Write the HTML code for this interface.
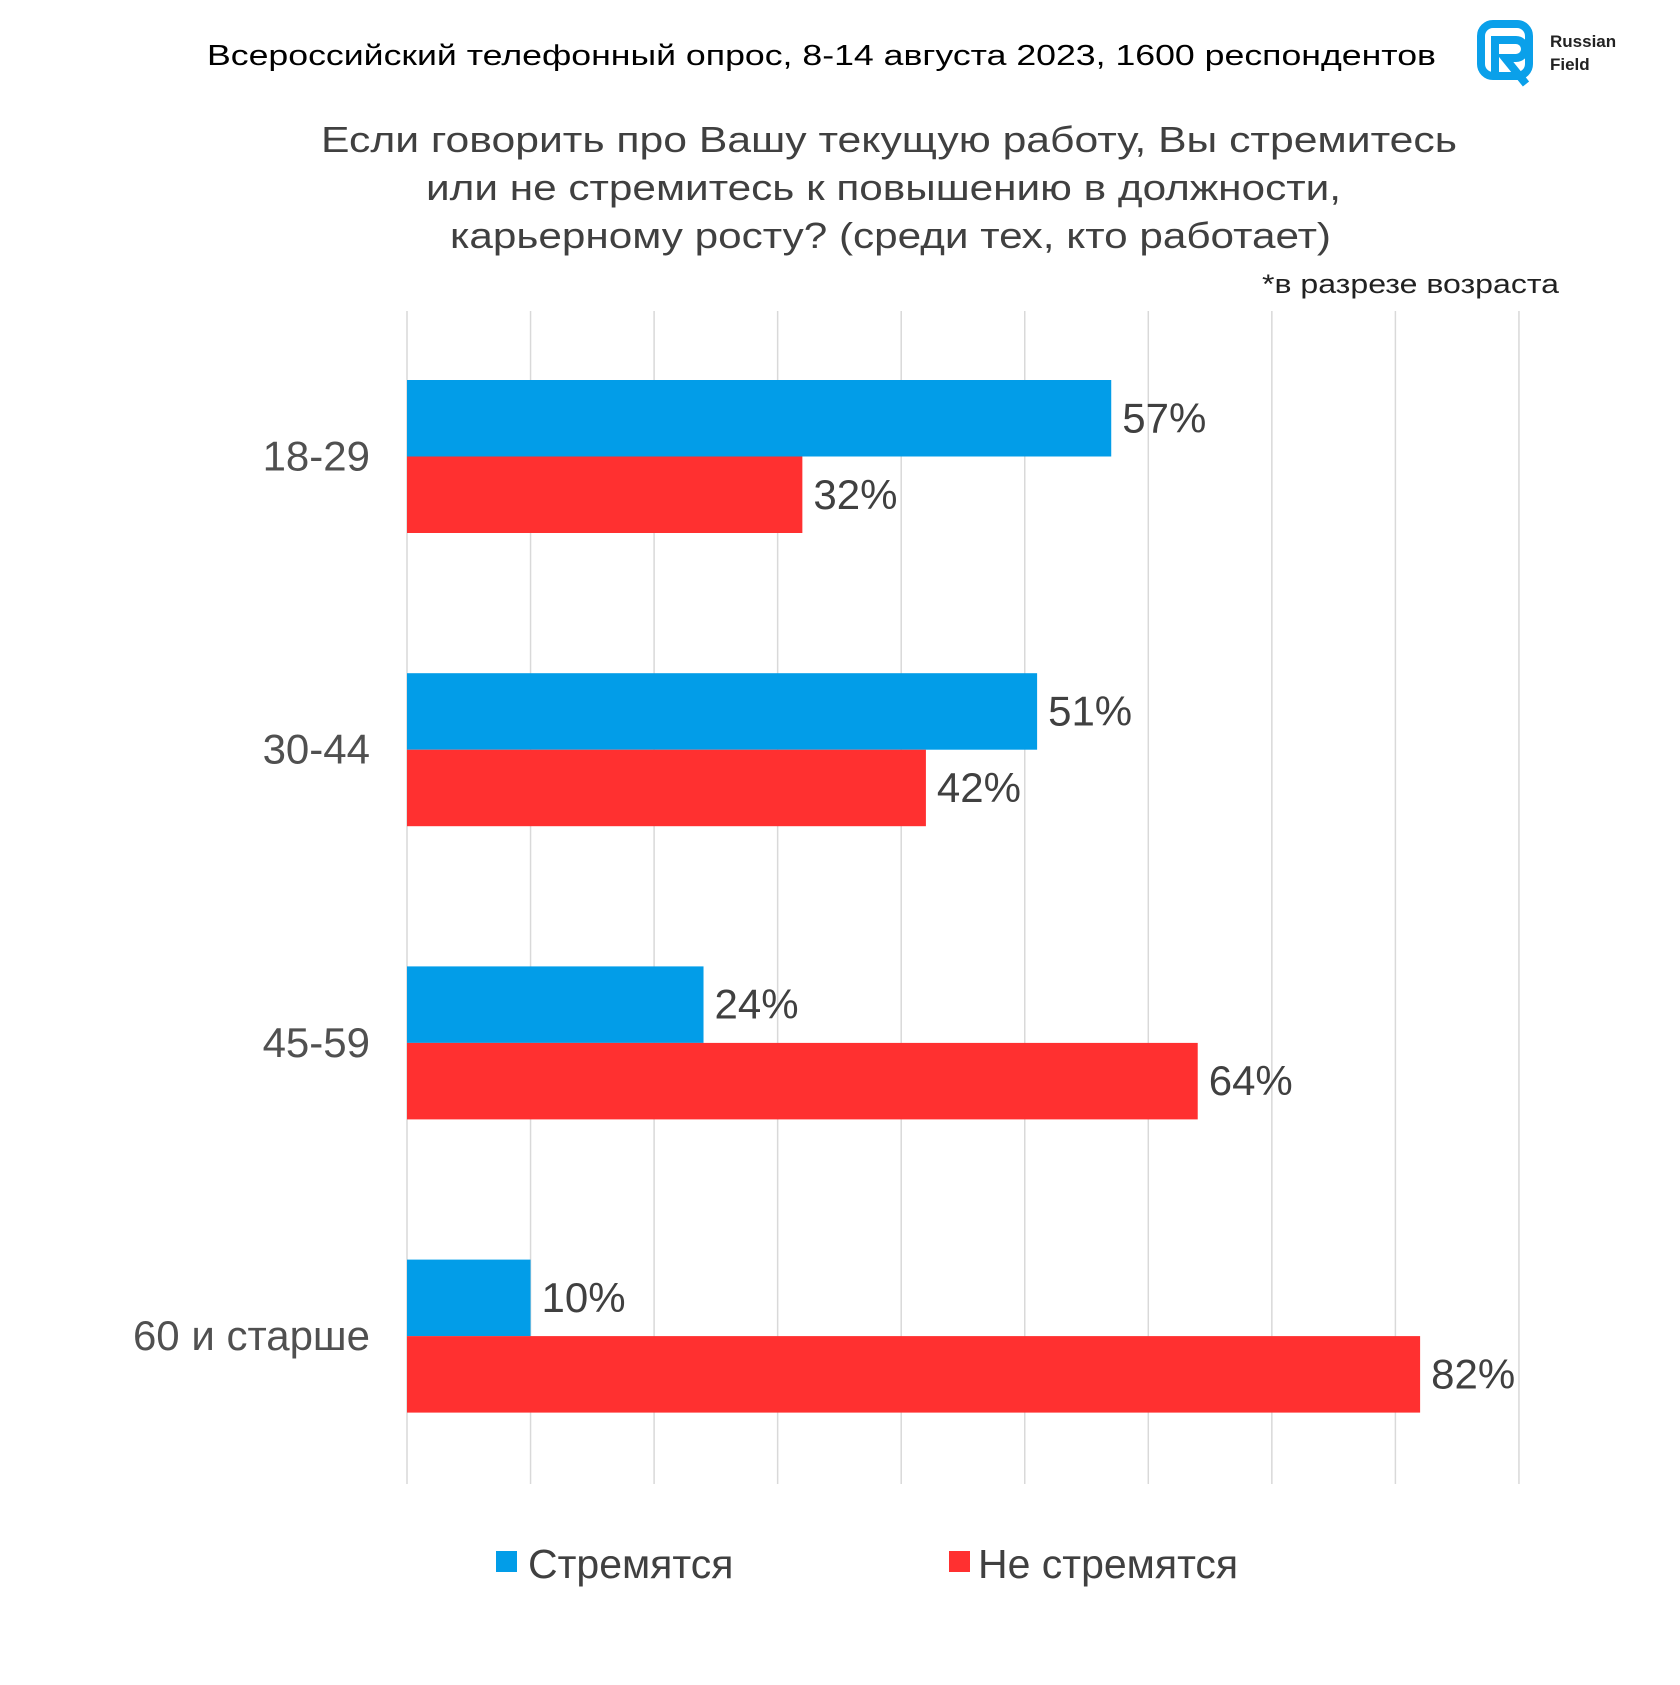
<!DOCTYPE html>
<html><head><meta charset="utf-8"><style>
body{margin:0;background:#fff;width:1680px;height:1680px;overflow:hidden;font-family:"Liberation Sans","DejaVu Sans",sans-serif}
</style></head><body>
<svg id="chart" width="1680" height="1680" xmlns="http://www.w3.org/2000/svg">
<text x="207" y="65" font-size="29" textLength="1229" lengthAdjust="spacingAndGlyphs" fill="#000">Всероссийский телефонный опрос, 8-14 августа 2023, 1600 респондентов</text>
<g>
<rect x="1481" y="24" width="48" height="52" rx="12" fill="none" stroke="#0aa0ea" stroke-width="8"/>
<path d="M1495 72 V40 H1516 a9 9 0 0 1 0 18 H1505 L1526 84" fill="none" stroke="#0aa0ea" stroke-width="8"/>
<text x="1550" y="47" font-size="17" font-weight="bold" fill="#222">Russian</text>
<text x="1550" y="70" font-size="17" font-weight="bold" fill="#222">Field</text>
</g>
<g font-size="36" fill="#404040" lengthAdjust="spacingAndGlyphs">
<text x="321" y="152" textLength="1136" lengthAdjust="spacingAndGlyphs">Если говорить про Вашу текущую работу, Вы стремитесь</text>
<text x="426" y="200" textLength="915" lengthAdjust="spacingAndGlyphs">или не стремитесь к повышению в должности,</text>
<text x="450" y="248" textLength="881" lengthAdjust="spacingAndGlyphs">карьерному росту? (среди тех, кто работает)</text>
</g>
<text x="1262" y="293" font-size="27" textLength="297" lengthAdjust="spacingAndGlyphs" fill="#222">*в разрезе возраста</text>
<g id="grid"></g><g id="bars"></g>
<g font-size="41" fill="#404040">
<rect x="496" y="1551" width="21" height="21" fill="#029de8"/>
<text x="528" y="1578">Стремятся</text>
<rect x="949" y="1551" width="21" height="21" fill="#ff3030"/>
<text x="978" y="1578">Не стремятся</text>
</g>
</svg>
<script>
const categories=["18-29","30-44","45-59","60 и старше"];
const strive=[57,51,24,10];
const notStrive=[32,42,64,82];
const ticks=[0,10,20,30,40,50,60,70,80,90];
const NS="http://www.w3.org/2000/svg";
const x0=407,pp=12.355,top0=380,bh=76.5,step=293.2;
const xs=v=>x0+v*pp;
function mk(t,a,p){const e=document.createElementNS(NS,t);for(const k in a)e.setAttribute(k,a[k]);p.appendChild(e);return e;}
const g=document.getElementById('grid'),b=document.getElementById('bars');
ticks.forEach(t=>{const l=mk('line',{x1:xs(t),x2:xs(t),y1:311,y2:1484,stroke:'#d9d9d9','stroke-width':1.5},g);

});
categories.forEach((c,i)=>{
const y=top0+i*step;
const cl=mk('text',{x:370,y:y+bh+14,'font-size':42,fill:'#505050','text-anchor':'end'},b);cl.textContent=c;


[[strive[i],'#029de8',y,'bar-strive'],[notStrive[i],'#ff3030',y+bh,'bar-not-strive']].forEach(([v,col,yy,n])=>{
const r=mk('rect',{x:x0,y:yy,width:xs(v)-x0,height:bh,fill:col},b);


const t=mk('text',{x:xs(v)+11,y:yy+bh/2+14,'font-size':42,fill:'#404040'},b);t.textContent=v+'%';


});});
</script>
</body></html>
